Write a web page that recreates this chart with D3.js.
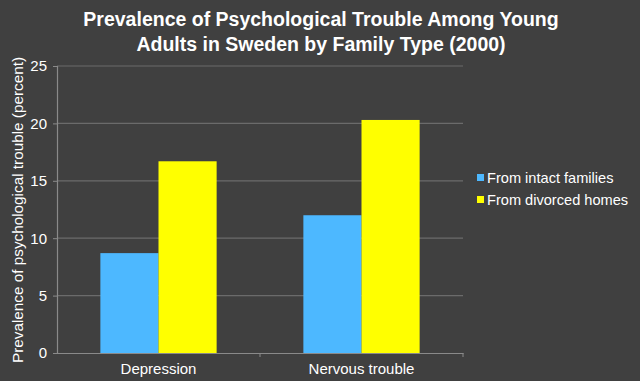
<!DOCTYPE html>
<html><head><meta charset="utf-8">
<script src="https://cdn.jsdelivr.net/npm/d3@7"></script>
<style>html,body{margin:0;padding:0;background:#404040;}svg{display:block;}</style>
</head><body>
<script>
const categories = ["Depression", "Nervous trouble"];
const seriesNames = ["From intact families", "From divorced homes"];
const intactValues = [8.7, 12.0];
const divorcedValues = [16.7, 20.3];
const yTicks = [0, 5, 10, 15, 20, 25];
const colors = ["#4db8ff", "#ffff00"];

(function () {
const W = 640, H = 381;
const mLeft = 57, mRight = 463, mTop = 66, mBottom = 353;
const font = "'Liberation Sans', Arial, Helvetica, sans-serif";

const svg = d3.select("body").append("svg").attr("width", W).attr("height", H)
  .style("font-family", font);
svg.append("rect").attr("width", W).attr("height", H).attr("fill", "#404040");

const y = d3.scaleLinear().domain([0, 25]).range([mBottom, mTop]);
const x0 = d3.scaleBand().domain(categories).range([mLeft, mRight]).padding(0);
const x1 = d3.scaleBand().domain(seriesNames).range([0, x0.bandwidth()]).paddingInner(0).paddingOuter(0.746);

// gridlines
svg.append("g").selectAll("line").data(yTicks.filter(t => t > 0)).join("line")
  .attr("x1", mLeft).attr("x2", mRight).attr("y1", d => y(d)).attr("y2", d => y(d))
  .attr("stroke", "#6b6b6b").attr("stroke-width", 1.2);

// bars
const data = categories.map((c, i) => ({cat: c, vals: [intactValues[i], divorcedValues[i]]}));
const groups = svg.append("g").selectAll("g").data(data).join("g")
  .attr("transform", d => `translate(${x0(d.cat)},0)`);
groups.selectAll("rect").data(d => d.vals.map((v, j) => ({v, j}))).join("rect")
  .attr("x", d => x1(seriesNames[d.j]))
  .attr("width", x1.bandwidth())
  .attr("y", d => y(d.v))
  .attr("height", d => y(0) - y(d.v))
  .attr("fill", d => colors[d.j]);

// y axis
const yAxis = d3.axisLeft(y).tickValues(yTicks).tickSize(4).tickPadding(6);
const gy = svg.append("g").attr("transform", `translate(${mLeft},0)`).call(yAxis);
gy.select(".domain").attr("stroke", "#8a8a8a").attr("stroke-width", 1.2);
gy.selectAll(".tick line").attr("stroke", "#8a8a8a");
gy.selectAll("text").attr("fill", "#ffffff").style("font-size", "15px").style("font-family", font);

// x axis
const xAxis = d3.axisBottom(x0).tickSize(0).tickPadding(10);
const gx = svg.append("g").attr("transform", `translate(0,${mBottom})`).call(xAxis);
gx.select(".domain").attr("stroke", "#8a8a8a").attr("stroke-width", 1.2);
gx.selectAll("text").attr("fill", "#ffffff").style("font-size", "15px").style("font-family", font);
gx.append("g").selectAll("line").data([x0(categories[1]), mRight]).join("line")
  .attr("x1", d => d).attr("x2", d => d).attr("y1", 0).attr("y2", 4)
  .attr("stroke", "#8a8a8a");

// y label
svg.append("text").attr("transform", `translate(23,210) rotate(-90)`)
  .attr("text-anchor", "middle").attr("fill", "#ffffff").style("font-size", "15.3px")
  .text("Prevalence of psychological trouble (percent)");

// title
const title = svg.append("text").attr("text-anchor", "middle").attr("fill", "#ffffff")
  .style("font-size", "19.5px").style("font-weight", "bold");
title.append("tspan").attr("x", 321).attr("y", 26).text("Prevalence of Psychological Trouble Among Young");
title.append("tspan").attr("x", 321).attr("y", 51).text("Adults in Sweden by Family Type (2000)");

// legend
const lg = svg.append("g").selectAll("g").data(seriesNames).join("g")
  .attr("transform", (d, i) => `translate(477,${174 + i * 22})`);
lg.append("rect").attr("width", 7).attr("height", 7).attr("fill", (d, i) => colors[i]);
lg.append("text").attr("x", 10).attr("y", 9).attr("fill", "#ffffff").style("font-size", "14.6px").text(d => d);
})();
</script>
</body></html>
